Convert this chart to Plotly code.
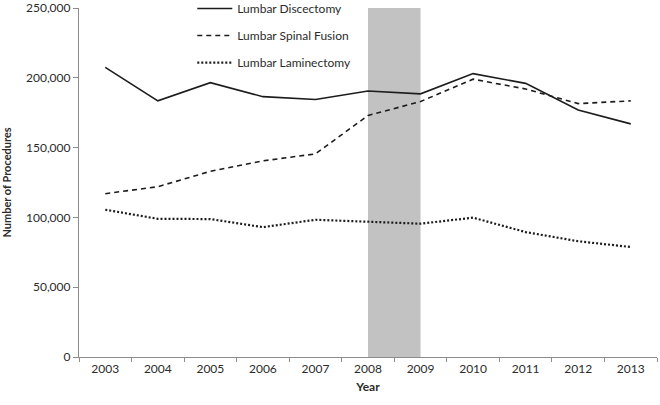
import plotly.graph_objects as go

years = ["2003", "2004", "2005", "2006", "2007", "2008", "2009", "2010", "2011", "2012", "2013"]
discectomy = [207500, 183500, 196500, 186500, 184500, 190500, 188500, 203000, 196000, 177000, 167000]
spinal_fusion = [117000, 122000, 133000, 140500, 145500, 173000, 183000, 199000, 192000, 181500, 183500]
laminectomy = [105500, 99000, 98800, 93000, 98300, 97000, 95500, 99800, 89500, 82900, 78800]
shaded_years = ["2008", "2009"]
y_ticks = [0, 50000, 100000, 150000, 200000, 250000]

FONT = "Lato, 'Open Sans', sans-serif"
TXT = "#2b2b2b"
AX = "#8c8c8c"

fig = go.Figure()
series = [
    ("Lumbar Discectomy", discectomy, "solid", 1.6),
    ("Lumbar Spinal Fusion", spinal_fusion, "5px,4px", 1.6),
    ("Lumbar Laminectomy", laminectomy, "2px,2px", 2.2),
]
for i, (name, vals, dash, w) in enumerate(series):
    fig.add_trace(go.Scatter(
        x=years, y=vals, mode="lines", name=name,
        line=dict(color="#1c1c1c", width=w, dash=dash),
        legendgroup=f"g{i}",
    ))

i0 = years.index(shaded_years[0])
i1 = years.index(shaded_years[1])
fig.add_shape(type="rect", xref="x", yref="paper", x0=i0, x1=i1, y0=0, y1=1,
              fillcolor="#c2c2c2", line=dict(width=0), layer="below")

fig.update_layout(
    width=660, height=405,
    margin=dict(l=79, r=3, t=8, b=48, autoexpand=False),
    paper_bgcolor="white", plot_bgcolor="white",
    font=dict(family=FONT, size=12, color=TXT),
    showlegend=True,
    legend=dict(x=0.196, y=1.04, xanchor="left", yanchor="top",
                bgcolor="rgba(0,0,0,0)", font=dict(size=12, color=TXT),
                tracegroupgap=8, itemwidth=35),
    xaxis=dict(type="category", showgrid=False, showline=True, linecolor=AX, linewidth=1.2,
               ticks="outside", tickson="boundaries", ticklen=4, tickcolor=AX, automargin=False,
               title=dict(text="<b>Year</b>", font=dict(size=12, color=TXT), standoff=8),
               tickfont=dict(size=12, color=TXT), range=[-0.5, len(years) - 0.5]),
    yaxis=dict(range=[0, 250000], tickvals=y_ticks, tickformat=",", showgrid=False,
               showline=True, linecolor=AX, linewidth=1.2, ticks="outside", ticklen=5,
               tickcolor=AX, zeroline=False, automargin=False,
               title=dict(text="<b>Number of Procedures</b>", font=dict(size=11, color=TXT), standoff=12),
               tickfont=dict(size=12, color=TXT)),
)

fig.write_html("out.html", config={"displayModeBar": False},
               post_script="document.body.style.margin='0px';document.body.style.overflow='hidden';")
